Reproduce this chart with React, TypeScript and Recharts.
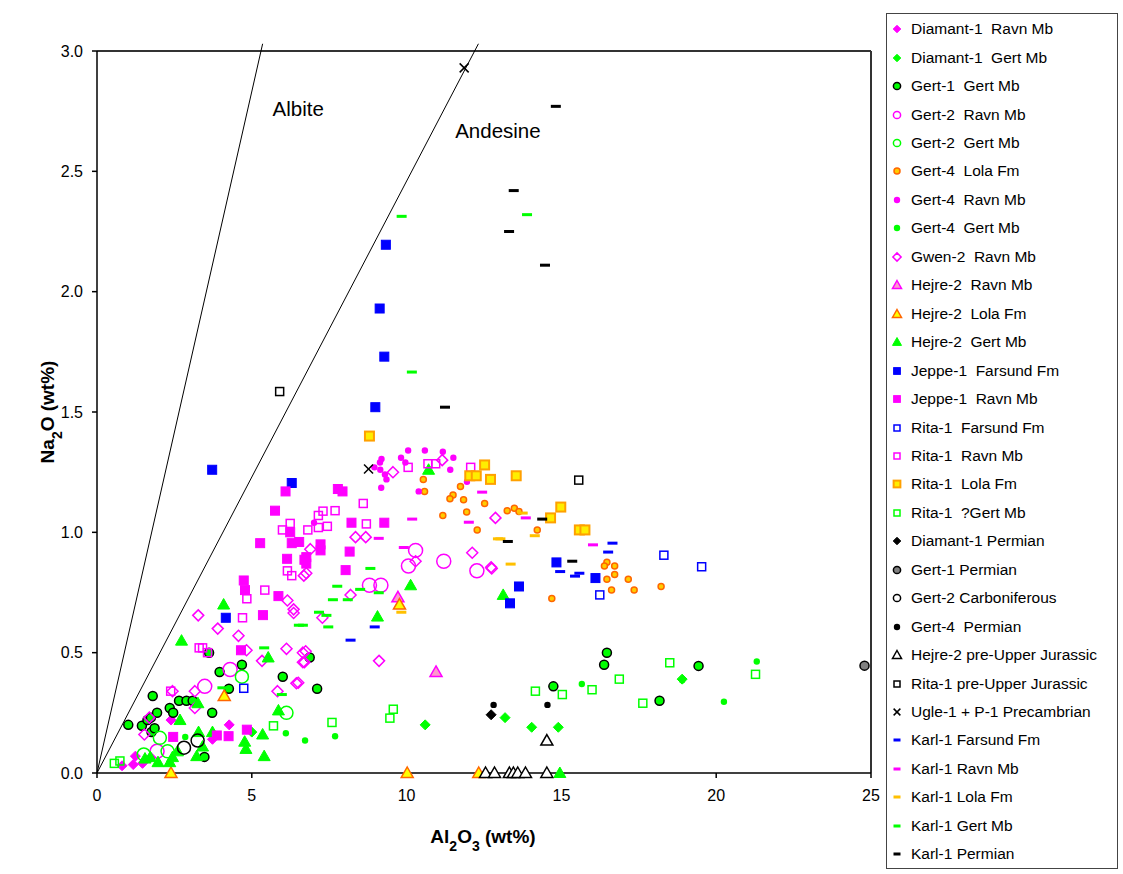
import React from "react";
import {
  ScatterChart,
  Scatter,
  XAxis,
  YAxis,
  ReferenceLine,
  ReferenceDot,
  Label,
} from "recharts";

// Al2O3 (x) vs Na2O (y), wt%
const diamant1Ravn = [[0.81, 0.03], [1.17, 0.035], [1.24, 0.07], [1.47, 0.04], [1.74, 0.065], [2.39, 0.22], [4.27, 0.2], [3.73, 0.14]];
const diamant1Gert = [[10.6, 0.2], [13.18, 0.23], [14.04, 0.19], [14.9, 0.19], [18.9, 0.39], [5.0, 0.17]];
const gert1Gert = [[1.01, 0.2], [1.8, 0.32], [1.45, 0.196], [1.63, 0.22], [1.74, 0.23], [1.94, 0.25], [1.76, 0.17], [1.86, 0.186], [2.35, 0.27], [2.46, 0.25], [2.65, 0.3], [2.89, 0.3], [3.09, 0.3], [3.72, 0.25], [3.96, 0.42], [4.26, 0.35], [4.68, 0.45], [3.62, 0.5], [6.0, 0.4], [3.47, 0.067], [6.87, 0.48], [7.11, 0.35], [16.47, 0.5], [16.38, 0.45], [14.74, 0.36], [18.17, 0.3], [19.43, 0.445]];
const gert2Ravn = [[4.3, 0.43], [3.48, 0.36], [1.94, 0.09], [10.29, 0.925], [10.06, 0.86], [11.2, 0.88], [12.27, 0.84], [8.8, 0.78], [9.17, 0.78]];
const gert2Gert = [[4.68, 0.4], [6.12, 0.25], [2.03, 0.146], [2.28, 0.09], [1.51, 0.077]];
const gert4Lola = [[10.54, 1.22], [10.58, 1.17], [11.74, 1.19], [11.5, 1.155], [11.4, 1.14], [11.84, 1.135], [12.52, 1.12], [11.17, 1.07], [11.94, 1.085], [12.28, 1.01], [13.25, 1.09], [13.48, 1.1], [13.63, 1.087], [14.22, 1.01], [16.47, 0.876], [16.39, 0.86], [16.72, 0.86], [16.72, 0.825], [16.47, 0.805], [17.16, 0.805], [16.62, 0.76], [17.35, 0.76], [18.22, 0.775], [14.69, 0.725]];
const gert4Ravn = [[10.05, 1.34], [10.59, 1.34], [11.17, 1.335], [11.51, 1.31], [11.41, 1.26], [9.82, 1.31], [9.96, 1.29], [9.19, 1.305], [9.14, 1.29], [8.96, 1.27], [9.15, 1.26], [9.3, 1.24], [9.35, 1.22], [9.18, 1.185], [10.39, 1.17], [11.95, 1.21], [7.01, 1.04]];
const gert4Gert = [[2.85, 0.15], [6.1, 0.165], [6.72, 0.135], [7.69, 0.153], [15.66, 0.37], [21.31, 0.463], [20.25, 0.296], [18.9, 0.385]];
const gwen2Ravn = [[3.27, 0.655], [3.9, 0.6], [4.57, 0.57], [6.35, 0.665], [6.12, 0.516], [5.33, 0.466], [6.65, 0.5], [6.65, 0.46], [6.5, 0.375], [5.83, 0.34], [3.16, 0.34], [3.16, 0.27], [2.44, 0.34], [1.53, 0.16], [1.69, 0.23], [4.83, 0.51], [9.56, 1.25], [11.15, 1.3], [12.87, 1.06], [8.35, 0.98], [8.68, 0.98], [6.89, 0.93], [10.29, 0.88], [12.12, 0.915], [12.73, 0.855], [6.76, 0.83], [8.19, 0.74], [12.75, 0.85], [6.74, 0.506], [6.7, 0.46], [9.11, 0.466], [7.28, 0.645], [6.44, 0.373], [6.15, 0.717], [6.68, 0.82], [6.35, 0.68]];
const hejre2Ravn = [[10.95, 0.42], [9.72, 0.73]];
const hejre2Lola = [[4.11, 0.32], [2.39, 0], [10.02, 0], [12.33, 0], [9.77, 0.7]];
const hejre2Gert = [[4.09, 0.7], [2.73, 0.55], [5.53, 0.48], [3.26, 0.29], [5.86, 0.26], [2.68, 0.22], [5.35, 0.16], [4.77, 0.13], [4.81, 0.1], [5.4, 0.07], [3.73, 0.17], [3.28, 0.17], [3.41, 0.11], [3.22, 0.07], [1.97, 0.045], [2.35, 0.045], [2.44, 0.066], [1.72, 0.066], [2.6, 0.09], [10.71, 1.26], [10.13, 0.78], [9.06, 0.65], [13.12, 0.74], [14.95, 0], [1.55, 0.06]];
const jeppe1Farsund = [[9.33, 2.195], [9.13, 1.93], [9.28, 1.73], [8.99, 1.52], [3.72, 1.26], [6.29, 1.205], [4.16, 0.645], [14.84, 0.875], [16.1, 0.81], [13.63, 0.775], [13.34, 0.705]];
const jeppe1Ravn = [[6.09, 1.17], [5.75, 1.09], [5.27, 0.955], [6.14, 0.89], [4.74, 0.8], [4.78, 0.76], [5.86, 0.735], [6.24, 1.0], [6.53, 0.96], [6.29, 0.955], [6.7, 0.886], [7.78, 1.18], [7.93, 1.17], [8.22, 1.04], [9.28, 1.04], [7.22, 0.95], [7.22, 0.925], [8.16, 0.92], [6.76, 0.897], [6.76, 0.87], [8.03, 0.843], [5.36, 0.656], [4.65, 0.51], [4.84, 0.18], [2.46, 0.15], [3.87, 0.156], [4.25, 0.153]];
const rita1Farsund = [[18.31, 0.905], [16.24, 0.74], [19.53, 0.857], [4.74, 0.352]];
const rita1Ravn = [[4.7, 0.645], [3.3, 0.52], [3.41, 0.52], [3.57, 0.5], [2.38, 0.34], [6.24, 1.037], [5.99, 1.01], [6.15, 0.84], [6.29, 0.82], [5.42, 0.76], [4.84, 0.724], [8.6, 1.12], [7.69, 1.09], [7.3, 1.088], [7.15, 1.07], [8.7, 1.035], [7.44, 1.025], [7.15, 1.02], [6.81, 1.01], [10.05, 1.27], [10.69, 1.285], [10.94, 1.285], [12.07, 1.27]];
const rita1Lola = [[8.8, 1.4], [12.52, 1.28], [12.04, 1.235], [12.25, 1.235], [12.71, 1.22], [13.54, 1.235], [14.98, 1.105], [14.65, 1.06], [15.58, 1.01], [15.76, 1.01]];
const rita1Gert = [[0.56, 0.04], [0.74, 0.05], [5.7, 0.196], [7.59, 0.21], [9.57, 0.265], [9.46, 0.228], [14.16, 0.34], [15.03, 0.326], [15.99, 0.346], [16.87, 0.39], [17.63, 0.29], [18.5, 0.458], [21.27, 0.41]];
const diamant1Perm = [[12.73, 0.242]];
const gert1Perm = [[24.79, 0.446]];
const gert2Carb = [[2.81, 0.105], [3.25, 0.135]];
const gert4Perm = [[12.81, 0.283], [14.55, 0.283]];
const hejre2PreUJ = [[14.53, 0.135], [12.55, 0], [12.84, 0], [13.32, 0], [13.45, 0], [13.59, 0], [13.84, 0], [14.53, 0]];
const rita1PreUJ = [[5.9, 1.585], [15.56, 1.217]];
const ugle1Precamb = [[11.86, 2.93], [8.77, 1.263]];
const karl1Farsund = [[16.65, 0.955], [16.51, 0.918], [14.96, 0.837], [15.44, 0.818], [15.58, 0.83], [8.97, 0.607], [8.19, 0.552]];
const karl1Ravn = [[12.44, 1.167], [10.18, 1.055], [12.01, 1.042], [9.1, 0.975], [9.91, 0.937], [13.85, 1.06], [16.02, 0.948]];
const karl1Lola = [[13.75, 1.08], [14.14, 0.986], [13.03, 0.973], [13.36, 0.868], [12.95, 0.973], [9.83, 0.668]];
const karl1Gert = [[9.84, 2.313], [10.17, 1.666], [13.89, 2.32], [8.83, 0.85], [7.76, 0.776], [8.5, 0.763], [9.1, 0.749], [7.62, 0.72], [8.1, 0.72], [7.17, 0.668], [7.41, 0.655], [7.47, 0.607], [6.65, 0.614], [6.52, 0.614], [5.4, 0.52], [4.05, 0.354], [5.97, 0.326]];
const karl1Perm = [[14.82, 2.77], [13.46, 2.42], [13.31, 2.25], [14.47, 2.11], [11.24, 1.52], [13.27, 0.962], [14.38, 1.055], [15.35, 0.88]];

const xTicks = [0, 5, 10, 15, 20, 25];
const yTicks = [0, 0.5, 1, 1.5, 2, 2.5, 3];

type Mark = { kind: string; size: number; fill: string; stroke: string; sw?: number };

const MAG = "#ff00ff";
const GRN = "#00ff00";
const BLU = "#0000ff";
const BLK = "#000000";

const series: { name: string; data: number[][]; m: Mark }[] = [
  { name: "Diamant-1  Ravn Mb", data: diamant1Ravn, m: { kind: "diamond", size: 5, fill: MAG, stroke: MAG } },
  { name: "Diamant-1  Gert Mb", data: diamant1Gert, m: { kind: "diamond", size: 5, fill: GRN, stroke: GRN } },
  { name: "Gert-1  Gert Mb", data: gert1Gert, m: { kind: "circle", size: 4.5, fill: GRN, stroke: BLK, sw: 1.5 } },
  { name: "Gert-2  Ravn Mb", data: gert2Ravn, m: { kind: "circle", size: 7, fill: "none", stroke: MAG, sw: 1.5 } },
  { name: "Gert-2  Gert Mb", data: gert2Gert, m: { kind: "circle", size: 6.5, fill: "none", stroke: GRN, sw: 1.5 } },
  { name: "Gert-4  Lola Fm", data: gert4Lola, m: { kind: "circle", size: 3, fill: "#ffcc00", stroke: "#ff6600", sw: 1.5 } },
  { name: "Gert-4  Ravn Mb", data: gert4Ravn, m: { kind: "circle", size: 3.2, fill: MAG, stroke: MAG, sw: 0 } },
  { name: "Gert-4  Gert Mb", data: gert4Gert, m: { kind: "circle", size: 3.2, fill: GRN, stroke: GRN, sw: 0 } },
  { name: "Gwen-2  Ravn Mb", data: gwen2Ravn, m: { kind: "diamond", size: 5.5, fill: "none", stroke: MAG, sw: 1.5 } },
  { name: "Hejre-2  Ravn Mb", data: hejre2Ravn, m: { kind: "triangle", size: 6, fill: "#ff99cc", stroke: MAG, sw: 1.5 } },
  { name: "Hejre-2  Lola Fm", data: hejre2Lola, m: { kind: "triangle", size: 6, fill: "#ffff00", stroke: "#ff6600", sw: 1.5 } },
  { name: "Hejre-2  Gert Mb", data: hejre2Gert, m: { kind: "triangle", size: 6, fill: GRN, stroke: GRN, sw: 1 } },
  { name: "Jeppe-1  Farsund Fm", data: jeppe1Farsund, m: { kind: "square", size: 4.5, fill: BLU, stroke: BLU } },
  { name: "Jeppe-1  Ravn Mb", data: jeppe1Ravn, m: { kind: "square", size: 4.5, fill: MAG, stroke: MAG } },
  { name: "Rita-1  Farsund Fm", data: rita1Farsund, m: { kind: "square", size: 4, fill: "none", stroke: BLU, sw: 1.5 } },
  { name: "Rita-1  Ravn Mb", data: rita1Ravn, m: { kind: "square", size: 4, fill: "none", stroke: MAG, sw: 1.5 } },
  { name: "Rita-1  Lola Fm", data: rita1Lola, m: { kind: "square", size: 4.5, fill: "#ffee00", stroke: "#ffa000", sw: 2 } },
  { name: "Rita-1  ?Gert Mb", data: rita1Gert, m: { kind: "square", size: 4, fill: "none", stroke: GRN, sw: 1.5 } },
  { name: "Diamant-1 Permian", data: diamant1Perm, m: { kind: "diamond", size: 5, fill: BLK, stroke: BLK } },
  { name: "Gert-1 Permian", data: gert1Perm, m: { kind: "circle", size: 4.5, fill: "#808080", stroke: BLK, sw: 1.5 } },
  { name: "Gert-2 Carboniferous", data: gert2Carb, m: { kind: "circle", size: 6.5, fill: "none", stroke: BLK, sw: 1.5 } },
  { name: "Gert-4  Permian", data: gert4Perm, m: { kind: "circle", size: 3.2, fill: BLK, stroke: BLK, sw: 0 } },
  { name: "Hejre-2 pre-Upper Jurassic", data: hejre2PreUJ, m: { kind: "triangle", size: 6, fill: "#ffffff", stroke: BLK, sw: 1.5 } },
  { name: "Rita-1 pre-Upper Jurassic", data: rita1PreUJ, m: { kind: "square", size: 4, fill: "none", stroke: BLK, sw: 1.5 } },
  { name: "Ugle-1 + P-1 Precambrian", data: ugle1Precamb, m: { kind: "x", size: 4.5, fill: "none", stroke: BLK, sw: 1.5 } },
  { name: "Karl-1 Farsund Fm", data: karl1Farsund, m: { kind: "dash", size: 5, fill: BLU, stroke: BLU } },
  { name: "Karl-1 Ravn Mb", data: karl1Ravn, m: { kind: "dash", size: 5, fill: MAG, stroke: MAG } },
  { name: "Karl-1 Lola Fm", data: karl1Lola, m: { kind: "dash", size: 5, fill: "#ffc000", stroke: "#ffc000" } },
  { name: "Karl-1 Gert Mb", data: karl1Gert, m: { kind: "dash", size: 5, fill: GRN, stroke: GRN } },
  { name: "Karl-1 Permian", data: karl1Perm, m: { kind: "dash", size: 5, fill: BLK, stroke: BLK } },
];

const FONT = "'Liberation Sans', Arial, sans-serif";

function drawMark(m: Mark, cx: number, cy: number, k = 1) {
  const s = m.size * k;
  const p = { fill: m.fill, stroke: m.stroke, strokeWidth: m.sw ?? 1 };
  switch (m.kind) {
    case "diamond":
      return <polygon points={`${cx},${cy - s} ${cx + s},${cy} ${cx},${cy + s} ${cx - s},${cy}`} {...p} />;
    case "circle":
      return <circle cx={cx} cy={cy} r={s} {...p} />;
    case "square":
      return <rect x={cx - s} y={cy - s} width={2 * s} height={2 * s} {...p} />;
    case "triangle":
      return <polygon points={`${cx},${cy - s} ${cx + s},${cy + s * 0.75} ${cx - s},${cy + s * 0.75}`} {...p} />;
    case "dash":
      return <rect x={cx - s} y={cy - 1.5} width={2 * s} height={3} fill={m.fill} />;
    case "x":
      return (
        <g stroke={m.stroke} strokeWidth={m.sw}>
          <line x1={cx - s} y1={cy - s} x2={cx + s} y2={cy + s} />
          <line x1={cx - s} y1={cy + s} x2={cx + s} y2={cy - s} />
        </g>
      );
    default:
      return <g />;
  }
}

// legend markers are drawn a bit smaller than the plot markers
function legendScale(m: Mark) {
  if (m.kind === "dash") return 0.7;
  if (m.kind === "circle") return Math.min(1, 3.6 / m.size);
  return 0.75;
}

function LegendBox() {
  const rowH = 28.45;
  return (
    <div
      style={{
        position: "absolute",
        left: 886,
        top: 13,
        width: 232,
        height: 856,
        border: "1px solid #444",
        boxSizing: "border-box",
        background: "#fff",
      }}
    >
      {series.map((s, i) => (
        <div
          key={s.name}
          style={{
            position: "absolute",
            left: 0,
            top: 1 + i * rowH,
            height: rowH,
            display: "flex",
            alignItems: "center",
            fontFamily: FONT,
            fontSize: 15.5,
            color: "#000",
            whiteSpace: "pre",
          }}
        >
          <svg width={20} height={16} style={{ marginLeft: 0, marginRight: 4 }}>
            {drawMark(s.m, 10, 8, legendScale(s.m))}
          </svg>
          <span>{s.name}</span>
        </div>
      ))}
    </div>
  );
}

export default function App() {
  return (
    <div style={{ position: "absolute", left: 0, top: 0, width: 1123, height: 874, background: "#fff" }}>
      <ScatterChart width={880} height={874} margin={{ top: 51, right: 9, bottom: 41, left: 0 }}>
        <XAxis
          type="number"
          dataKey="x"
          domain={[0, 25]}
          ticks={xTicks}
          height={60}
          tickSize={5}
          tickMargin={12}
          stroke="#000"
          strokeWidth={1.5}
          tick={{ fill: "#000", fontSize: 16, fontFamily: FONT }}
        >
          <Label
            content={() => (
              <text x={483} y={843} textAnchor="middle" fontFamily={FONT} fontSize={19} fontWeight="bold" fill="#000">
                Al<tspan baselineShift="sub" fontSize={14}>2</tspan>
                <tspan>O</tspan>
                <tspan baselineShift="sub" fontSize={14}>3</tspan>
                <tspan> (wt%)</tspan>
              </text>
            )}
          />
        </XAxis>
        <YAxis
          type="number"
          dataKey="y"
          domain={[0, 3]}
          ticks={yTicks}
          width={97}
          tickSize={5}
          tickMargin={9}
          stroke="#000"
          strokeWidth={1.5}
          tickFormatter={(v: number) => v.toFixed(1)}
          tick={{ fill: "#000", fontSize: 16, fontFamily: FONT }}
        >
          <Label
            content={() => (
              <text
                x={54}
                y={412}
                transform="rotate(-90 54 412)"
                textAnchor="middle"
                fontFamily={FONT}
                fontSize={19}
                fontWeight="bold"
                fill="#000"
              >
                Na<tspan baselineShift="sub" fontSize={14}>2</tspan>
                <tspan>O (wt%)</tspan>
              </text>
            )}
          />
        </YAxis>
        <ReferenceLine y={3} stroke="#333" strokeWidth={2} />
        <ReferenceLine x={25} stroke="#333" strokeWidth={2} />
        <ReferenceLine segment={[{ x: 0, y: 0 }, { x: 5.35, y: 3.03 }]} stroke="#000" strokeWidth={1} ifOverflow="visible" />
        <ReferenceLine segment={[{ x: 0, y: 0 }, { x: 12.32, y: 3.03 }]} stroke="#000" strokeWidth={1} ifOverflow="visible" />
        <ReferenceDot
          x={6.5}
          y={2.76}
          r={0}
          fill="none"
          stroke="none"
          label={{ value: "Albite", position: "center", fontSize: 20.5, fontFamily: FONT, fill: "#000" }}
        />
        <ReferenceDot
          x={12.95}
          y={2.67}
          r={0}
          fill="none"
          stroke="none"
          label={{ value: "Andesine", position: "center", fontSize: 20.5, fontFamily: FONT, fill: "#000" }}
        />
        {series.map((s) => (
          <Scatter
            key={s.name}
            name={s.name}
            data={s.data.map(([x, y]) => ({ x, y }))}
            isAnimationActive={false}
            shape={(p: any) => drawMark(s.m, p.cx, p.cy)}
          />
        ))}
      </ScatterChart>
      <LegendBox />
    </div>
  );
}
